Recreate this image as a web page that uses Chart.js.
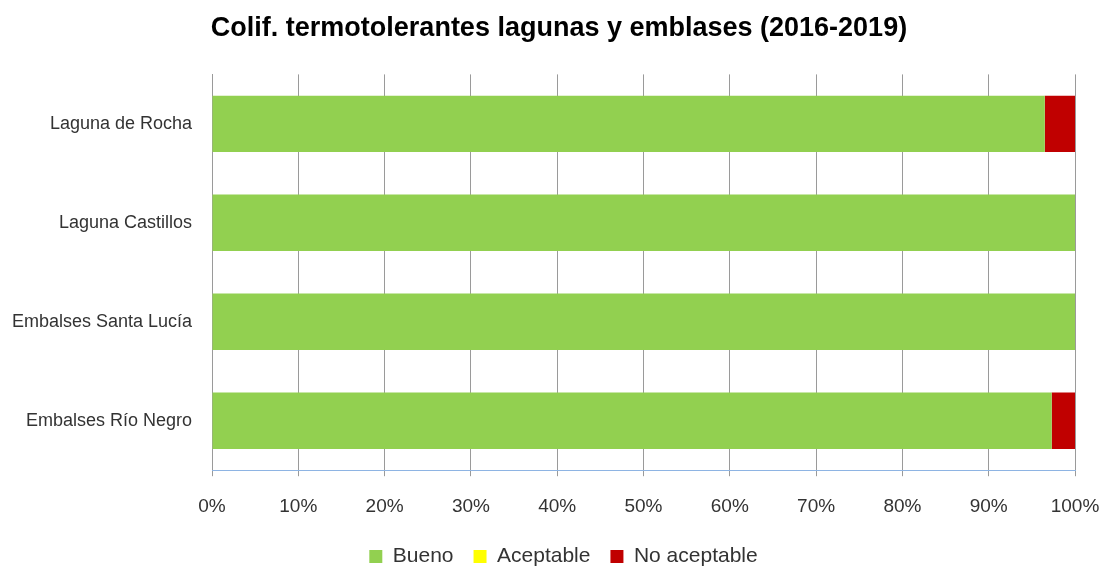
<!DOCTYPE html>
<html><head><meta charset="utf-8">
<script src="https://cdn.jsdelivr.net/npm/chart.js@4"></script>
<style>html,body{margin:0;padding:0;background:#fff}#w{width:1105px;height:567px}</style>
</head><body><div id="w"><canvas id="c"></canvas></div>
<script>
const categories = ["Laguna de Rocha", "Laguna Castillos", "Embalses Santa Lucía", "Embalses Río Negro"];
const bueno = [96.5, 100, 100, 97.3];
const aceptable = [0, 0, 0, 0];
const noAceptable = [3.5, 0, 0, 2.7];
const xTicks = [0,10,20,30,40,50,60,70,80,90,100];

const FONT = "'Liberation Sans', 'Open Sans', sans-serif";
const tweaks = {
  id: 'tweaks',
  afterLayout(chart) {
    if (chart.titleBlock) chart.titleBlock.left += 13;
    if (chart.legend) chart.legend.left += 22;
  },
  afterDatasetsDraw(chart) {
    const {ctx, chartArea: a} = chart;
    ctx.save();
    ctx.strokeStyle = '#8EB4E3';
    ctx.lineWidth = 1;
    ctx.beginPath();
    ctx.moveTo(a.left, Math.round(a.bottom) + 0.5);
    ctx.lineTo(a.right, Math.round(a.bottom) + 0.5);
    ctx.stroke();
    ctx.restore();
  }
};
new Chart(document.getElementById('c'), {
  type: 'bar',
  data: {
    labels: categories,
    datasets: [
      {label: 'Bueno', data: bueno, backgroundColor: '#92D050'},
      {label: 'Aceptable', data: aceptable, backgroundColor: '#FFFF00'},
      {label: 'No aceptable', data: noAceptable, backgroundColor: '#C00000'}
    ]
  },
  plugins: [tweaks],
  options: {
    indexAxis: 'y',
    responsive: true, maintainAspectRatio: false, animation: false,
    datasets: {bar: {categoryPercentage: 1, barPercentage: 0.57}},
    layout: {padding: {left: 0, right: 0, top: 0, bottom: -10}},
    plugins: {
      title: {display: true, text: 'Colif. termotolerantes lagunas y emblases (2016-2019)',
        color: '#000', font: {family: FONT, size: 27, weight: 'bold'}, padding: {top: 12, bottom: 30}},
      legend: {position: 'bottom', labels: {boxWidth: 13, boxHeight: 13, color: '#333', padding: 20,
        font: {family: FONT, size: 21}}},
      tooltip: {enabled: false}
    },
    scales: {
      x: {stacked: true, min: 0, max: 100,
        afterBuildTicks: s => { s.ticks = xTicks.map(v => ({value: v})); },
        afterFit: s => { s.height -= 11; s.paddingRight = 30; },
        ticks: {callback: v => v + '%', color: '#333', font: {family: FONT, size: 19}, padding: 19, maxRotation: 0},
        grid: {color: '#9a9a9a', lineWidth: 1, tickLength: 6, drawTicks: true},
        border: {color: '#8EB4E3', width: 1}
      },
      y: {stacked: true,
        afterFit: s => { s.width = 212; },
        ticks: {color: '#333', font: {family: FONT, size: 18}, padding: 12},
        grid: {display: false},
        border: {color: '#9a9a9a', width: 1}
      }
    }
  }
});
</script></body></html>
